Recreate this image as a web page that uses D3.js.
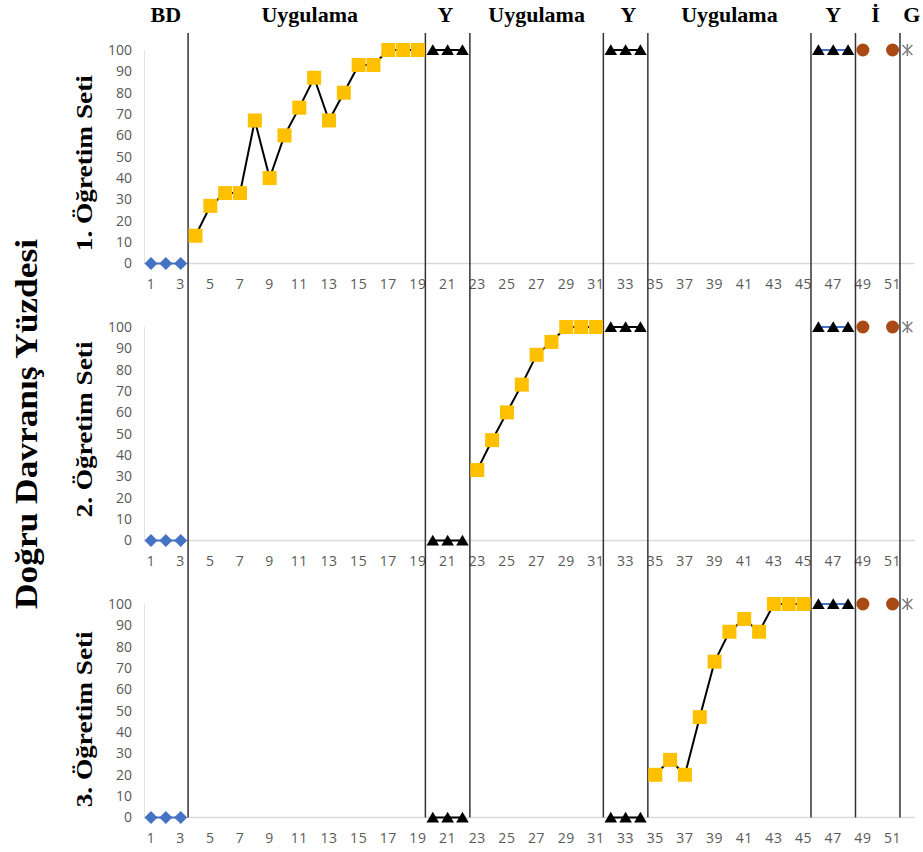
<!DOCTYPE html>
<html><head><meta charset="utf-8">
<script src="https://cdn.jsdelivr.net/npm/d3@7"></script>
<style>body{margin:0;background:#fff}</style>
</head><body>
<svg id="chart" width="923" height="852"></svg>
<script>
// ---------- DATA ----------
const phaseLabels = ["BD", "Uygulama", "Y", "Uygulama", "Y", "Uygulama", "Y", "İ", "G"];
const phaseLabelCenters = [2, 11.7, 20.85, 27, 33.2, 40, 47, 49.85, 52.3];
const phaseBoundaries = [3.5, 19.5, 22.5, 31.5, 34.5, 45.5, 48.5, 51.5];
const panelTitles = ["1. Öğretim Seti", "2. Öğretim Seti", "3. Öğretim Seti"];
const panelTitleCenters = [47, 52, 46];
const mainTitle = "Doğru Davranış Yüzdesi";
const yTickValues = [0, 10, 20, 30, 40, 50, 60, 70, 80, 90, 100];
const xTickLabels = [1, 3, 5, 7, 9, 11, 13, 15, 17, 19, 21, 23, 25, 27, 29, 31, 33, 35, 37, 39, 41, 43, 45, 47, 49, 51];

const bdSessions = [1, 2, 3];
const yA_Sessions = [20, 21, 22];
const yB_Sessions = [32, 33, 34];
const yC_Sessions = [46, 47, 48];
const iSessions = [49, 51];
const gSessions = [52];
const uyg1Sessions = [4, 5, 6, 7, 8, 9, 10, 11, 12, 13, 14, 15, 16, 17, 18, 19];
const uyg2Sessions = [23, 24, 25, 26, 27, 28, 29, 30, 31];
const uyg3Sessions = [35, 36, 37, 38, 39, 40, 41, 42, 43, 44, 45];

// Set 1
const set1BD = [0, 0, 0];
const set1Uyg = [13, 27, 33, 33, 67, 40, 60, 73, 87, 67, 80, 93, 93, 100, 100, 100];
const set1YA = [100, 100, 100];
const set1YB = [100, 100, 100];
const set1YC = [100, 100, 100];
const set1I = [100, 100];
const set1G = [100];
// Set 2
const set2BD = [0, 0, 0];
const set2YA = [0, 0, 0];
const set2Uyg = [33, 47, 60, 73, 87, 93, 100, 100, 100];
const set2YB = [100, 100, 100];
const set2YC = [100, 100, 100];
const set2I = [100, 100];
const set2G = [100];
// Set 3
const set3BD = [0, 0, 0];
const set3YA = [0, 0, 0];
const set3YB = [0, 0, 0];
const set3Uyg = [20, 27, 20, 47, 73, 87, 93, 87, 100, 100, 100];
const set3YC = [100, 100, 100];
const set3I = [100, 100];
const set3G = [100];

const zip = (s, v) => s.map((x, i) => ({x, v: v[i]}));
const panels = [
  [ {t:"bd", d:zip(bdSessions,set1BD)}, {t:"uyg", d:zip(uyg1Sessions,set1Uyg)}, {t:"yk", d:zip(yA_Sessions,set1YA)},
    {t:"yk", d:zip(yB_Sessions,set1YB)}, {t:"yb", d:zip(yC_Sessions,set1YC)}, {t:"i", d:zip(iSessions,set1I)}, {t:"g", d:zip(gSessions,set1G)} ],
  [ {t:"bd", d:zip(bdSessions,set2BD)}, {t:"yk", d:zip(yA_Sessions,set2YA)}, {t:"uyg", d:zip(uyg2Sessions,set2Uyg)},
    {t:"yk", d:zip(yB_Sessions,set2YB)}, {t:"yb", d:zip(yC_Sessions,set2YC)}, {t:"i", d:zip(iSessions,set2I)}, {t:"g", d:zip(gSessions,set2G)} ],
  [ {t:"bd", d:zip(bdSessions,set3BD)}, {t:"yk", d:zip(yA_Sessions,set3YA)}, {t:"yk", d:zip(yB_Sessions,set3YB)},
    {t:"uyg", d:zip(uyg3Sessions,set3Uyg)}, {t:"yb", d:zip(yC_Sessions,set3YC)}, {t:"i", d:zip(iSessions,set3I)}, {t:"g", d:zip(gSessions,set3G)} ]
];

// ---------- LAYOUT ----------
const svg = d3.select("#chart");
svg.append("rect").attr("width", 923).attr("height", 852).attr("fill", "#fff");

const x = d3.scaleLinear().domain([0.5, 52.5]).range([143.6, 914.8]);
const panelTop0 = 50, panelStep = 277, panelH = 213.5;

const diamond = {draw(c, s){ const r = Math.sqrt(s)/2; c.moveTo(0,-r); c.lineTo(r,0); c.lineTo(0,r); c.lineTo(-r,0); c.closePath(); }};
const square = {draw(c, s){ const r = Math.sqrt(s)/2; c.rect(-r,-r,2*r,2*r); }};
const tri = {draw(c, s){ const r = Math.sqrt(s)/2; c.moveTo(0,-r*0.95); c.lineTo(r*1.05,r*0.85); c.lineTo(-r*1.05,r*0.85); c.closePath(); }};

const style = {
  bd:  {line:"#4472C4", sym:d3.symbol(diamond, 169), fill:"#4472C4"},
  uyg: {line:"#000", sym:d3.symbol(square, 196), fill:"#FFC000"},
  yk:  {line:"#000", sym:d3.symbol(tri, 144), fill:"#000"},
  yb:  {line:"#4472C4", sym:d3.symbol(tri, 144), fill:"#000"},
  i:   {line:null, sym:d3.symbol(d3.symbolCircle, Math.PI*6.5*6.5), fill:"#A94A14"},
  g:   {line:null, sym:null, fill:"#808080"}
};

panels.forEach((series, pi) => {
  const top = panelTop0 + pi*panelStep;
  const y = d3.scaleLinear().domain([0, 100]).range([top + panelH, top]);
  const g = svg.append("g");

  g.append("line").attr("x1", 144.5).attr("x2", 144.5).attr("y1", y(100)).attr("y2", y(0))
    .attr("stroke", "#E3E3E3").attr("stroke-width", 1);

  g.selectAll("text.yt").data(yTickValues).join("text").attr("class","yt")
    .attr("x", 132).attr("y", d => y(d)).attr("dy", "0.35em").attr("text-anchor", "end")
    .attr("font-family", "'Open Sans', sans-serif").attr("font-size", 14).attr("fill", "#595959")
    .text(d => d);

  g.append("line").attr("x1", x(0.5)).attr("x2", x(52.5)).attr("y1", y(0)).attr("y2", y(0))
    .attr("stroke", "#D9D9D9").attr("stroke-width", 1.5);

  g.selectAll("text.xt").data(xTickLabels).join("text").attr("class","xt")
    .attr("x", d => x(d)).attr("y", y(0) + 25).attr("text-anchor", "middle")
    .attr("font-family", "'Open Sans', sans-serif").attr("font-size", 14).attr("fill", "#595959")
    .attr("letter-spacing", "0.6px")
    .text(d => d);

  const ty = y(panelTitleCenters[pi]);
  g.append("text").attr("transform", `translate(92,${ty}) rotate(-90)`)
    .attr("text-anchor", "middle").attr("font-family", "'Liberation Serif', 'Times New Roman', serif")
    .attr("font-weight", "bold").attr("font-size", 24).attr("fill", "#000")
    .attr("textLength", 176).attr("lengthAdjust", "spacingAndGlyphs")
    .text(panelTitles[pi]);
});

svg.selectAll("line.phase").data(phaseBoundaries).join("line").attr("class","phase")
  .attr("x1", d => x(d)).attr("x2", d => x(d)).attr("y1", 33).attr("y2", panelTop0 + 2*panelStep + panelH)
  .attr("stroke", "#333").attr("stroke-width", 1.5);

panels.forEach((series, pi) => {
  const top = panelTop0 + pi*panelStep;
  const y = d3.scaleLinear().domain([0, 100]).range([top + panelH, top]);
  const g = svg.append("g");
  const line = d3.line().x(d => x(d.x)).y(d => y(d.v));
  series.forEach(s => {
    const st = style[s.t];
    if (st.line && s.d.length > 1) {
      g.append("path").attr("d", line(s.d)).attr("fill", "none").attr("stroke", st.line).attr("stroke-width", 2);
    }
    if (st.sym) {
      g.selectAll(null).data(s.d).join("path")
        .attr("transform", d => `translate(${x(d.x)},${y(d.v)})`)
        .attr("d", st.sym()).attr("fill", st.fill);
    } else {
      s.d.forEach(d => {
        const cx = x(d.x), cy = y(d.v), r = 5;
        const p = d3.path();
        p.moveTo(cx - r, cy - r); p.lineTo(cx + r, cy + r);
        p.moveTo(cx - r, cy + r); p.lineTo(cx + r, cy - r);
        p.moveTo(cx, cy - r - 1); p.lineTo(cx, cy + r + 1);
        g.append("path").attr("d", p.toString()).attr("stroke", st.fill).attr("stroke-width", 1.5).attr("fill", "none");
      });
    }
  });
});

svg.selectAll("text.ph").data(phaseLabels).join("text").attr("class","ph")
  .attr("x", (d, i) => x(phaseLabelCenters[i])).attr("y", 22).attr("text-anchor", "middle")
  .attr("font-family", "'Liberation Serif', 'Times New Roman', serif").attr("font-weight", "bold")
  .attr("font-size", 22).attr("fill", "#000")
  .text(d => d);

svg.append("text").attr("transform", "translate(37,424) rotate(-90)")
  .attr("text-anchor", "middle").attr("font-family", "'Liberation Serif', 'Times New Roman', serif")
  .attr("font-weight", "bold").attr("font-size", 31).attr("fill", "#000")
  .attr("textLength", 370).attr("lengthAdjust", "spacingAndGlyphs")
  .text(mainTitle);
</script>
</body></html>
